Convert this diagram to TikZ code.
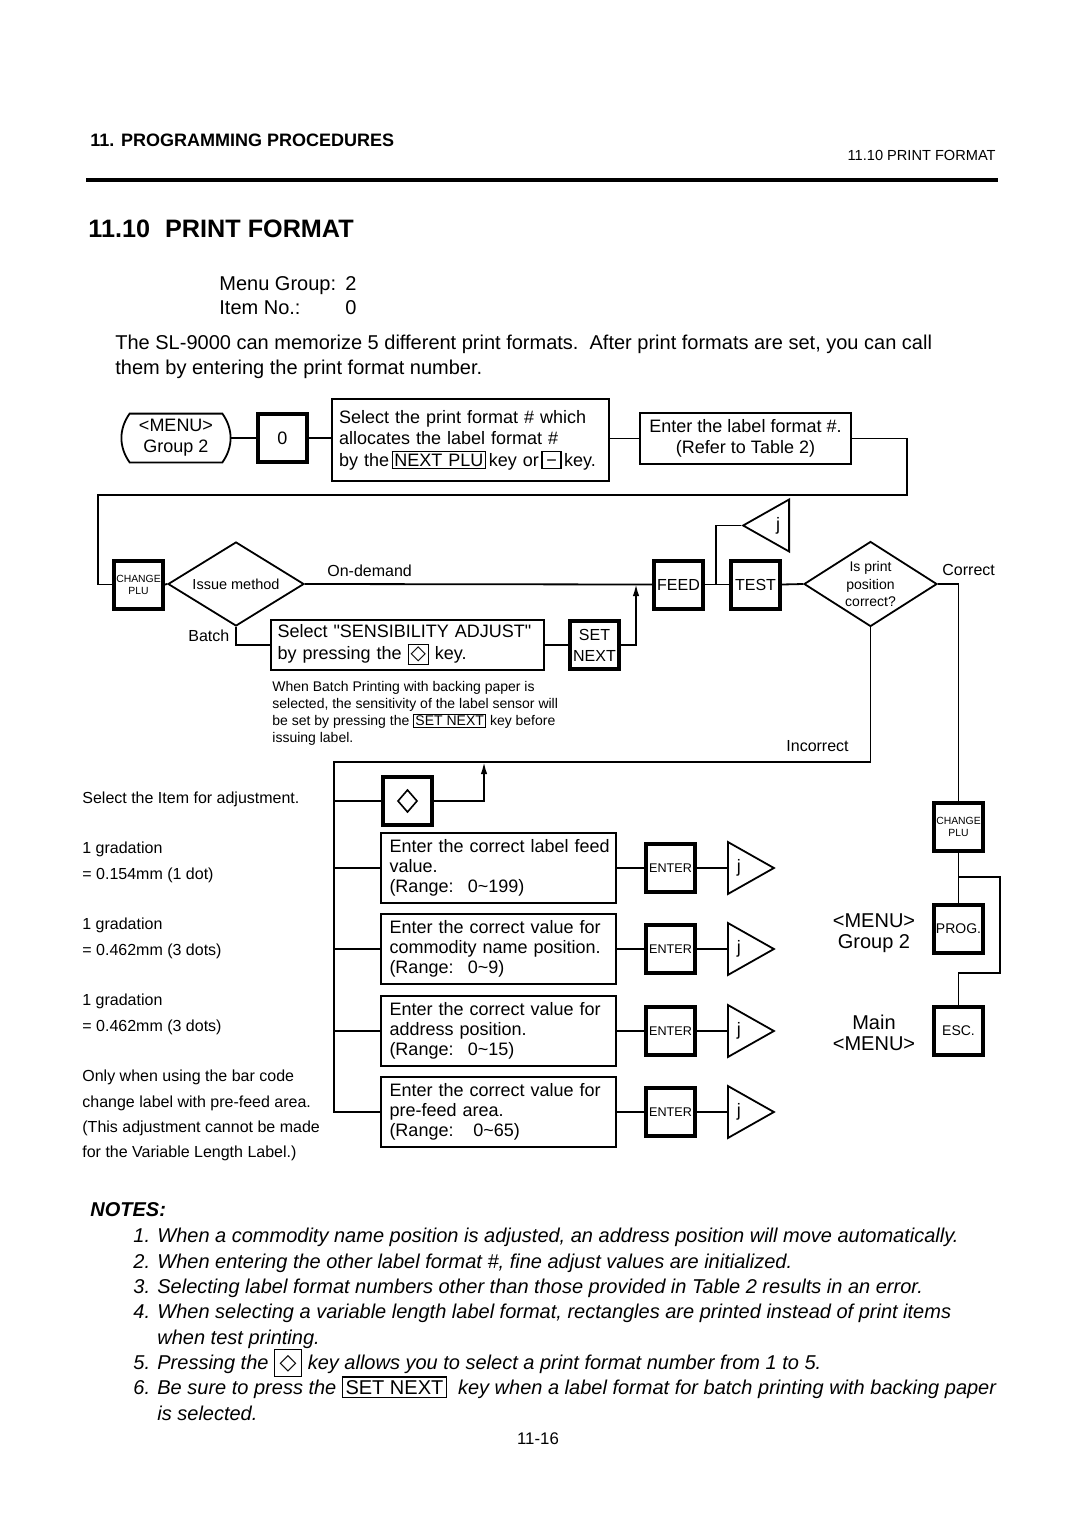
\documentclass[tikz,border=0pt]{standalone}
\usepackage{fontspec}
\setmainfont{Liberation Sans}
\newfontfamily\symfont{DejaVu Sans}
\usetikzlibrary{shapes.geometric,arrows.meta}
\newcommand{\fsz}[2]{\fontsize{#1}{#2}\selectfont}
\newcommand{\keyfr}[2][1pt]{{\fboxsep=#1\fboxrule=0.6pt\fbox{\upshape\vphantom{NP}#2}}}
\newcommand{\oneline}[1]{\mbox{#1}}

\begin{document}
\begin{tikzpicture}[x=0.5pt,y=-0.5pt,>={Latex[length=6pt,width=3.2pt]},
  link/.style={line width=0.9pt},
  box/.style={draw, line width=0.9pt, align=left, inner sep=0pt, font=\fsz{9}{10.75}},
  keybox/.style={draw, line width=2pt, minimum width=24.5pt, minimum height=24pt, inner sep=0pt, align=center},
  ask/.style={draw, diamond, line width=0.9pt, inner sep=0pt, align=center},
  jtri/.style={draw, line width=0.9pt, isosceles triangle, isosceles triangle stretches, minimum width=26pt, minimum height=23pt, inner sep=0pt, font=\fsz{9}{9}},
  txt/.style={anchor=base west, inner sep=0pt},
]
\fill[white] (0,0) rectangle (1080,1525);
\useasboundingbox (0,0) rectangle (1080,1525);

% page head
\node[txt, font=\bfseries\fsz{9}{9}] (hdl) at (90,147) {11. PROGRAMMING PROCEDURES};
\node[anchor=base east, inner sep=0pt, font=\fsz{7.3}{7.3}] (hdr) at (996,161) {11.10 PRINT FORMAT};
\draw[line width=2pt] (86,180) -- (998,180);
\node[txt, font=\bfseries\fsz{12.6}{12.6}] (ttl) at (88,237) {11.10\hspace{0.6em}PRINT FORMAT};
\node[txt, font=\fsz{10}{10}] (mg) at (219,290) {Menu Group:};
\node[txt, font=\fsz{10}{10}] (mgv) at (345,290) {2};
\node[txt, font=\fsz{10}{10}] (ino) at (219,314) {Item No.:};
\node[txt, font=\fsz{10}{10}] (inov) at (345,314) {0};
\node[txt, font=\fsz{10}{10}] (par1) at (115,349) {The SL-9000 can memorize 5 different print formats.\ \ After print formats are set, you can call};
\node[txt, font=\fsz{10}{10}] (par2) at (115,374) {them by entering the print format number.};

% top row
\node[minimum width=46pt, minimum height=24pt, inner sep=0pt, align=center, font=\fsz{9}{10.5}] (menu) at (176,438) {<MENU>\\Group 2};
\draw[link] (menu.north west) to[bend right=35] (menu.south west) -- (menu.south east) to[bend right=35] (menu.north east) -- cycle;
\node[keybox, font=\fsz{9}{9}] (zero) at (282.5,438) {0};
\node[box, text width=131.5pt, inner xsep=3.5pt, minimum height=41pt] (sel) at (470.5,440) {\oneline{Select the print format \# which}\\\oneline{allocates the label format \#}\\\oneline{by the\hspace{1.3pt}\keyfr[0.8pt]{NEXT PLU}\hspace{1.3pt}key or\hspace{1.3pt}\keyfr[0.8pt]{\hspace{1pt}−\hspace{1pt}}\hspace{1.3pt}key.}};
\node[box, align=center, minimum width=105.5pt, minimum height=25.5pt] (fmt) at (745.5,438.5) {Enter the label format \#.\\(Refer to Table 2)};
\draw[link] ([xshift=4pt]menu.east) -- (zero.west);
\draw[link] (zero.east) -- (zero.east -| sel.west);
\draw[link] (fmt.west -| sel.east) -- (fmt.west);

% issue method
\node[keybox, font=\fsz{5.2}{6}] (chg1) at (138.5,584.5) {CHANGE\\PLU};
\coordinate (lpR) at (907,495);
\coordinate (lpL) at (98,495);
\draw[link] (fmt.east) -| (lpR) -- (lpL) |- (chg1.west);
\node[ask, aspect=1.62, minimum width=68pt, minimum height=42pt, font=\fsz{7.25}{7.25}] (issue) at (236,584) {Issue method};
\node[box, text width=130pt, inner xsep=3.25pt, minimum height=25pt, font=\fsz{9}{11}] (sens) at (407.5,645) {\oneline{Select \textquotedbl SENSIBILITY ADJUST\textquotedbl}\\\oneline{by pressing the \keyfr[0.9pt]{\symfont\fsz{10}{10}◇} key.}};
\node[keybox, font=\fsz{8}{10.5}] (setn) at (594.5,645) {SET\\NEXT};
\node[anchor=north west, align=left, inner sep=0pt, font=\fsz{7}{8.5}] (bnote) at (272,681) {When Batch Printing with backing paper is\\selected, the sensitivity of the label sensor will\\be set by pressing the \keyfr[0.5pt]{SET NEXT} key before\\issuing label.};
\node[keybox, font=\fsz{8}{8}] (feed) at (678.5,584.5) {FEED};
\node[keybox, font=\fsz{8}{8}] (test) at (755.5,584.5) {TEST};
\node[jtri, shape border rotate=180, anchor=lower side] (jtop) at (790,525.5) {j};
\node[ask, aspect=1.56, minimum width=66.5pt, minimum height=42.5pt, font=\fsz{7}{8.75}] (pos) at (870.5,584) {Is print\\position\\correct?};
\draw[link] (chg1.east) -- (issue.west);
\draw[link] (issue.east) -- (feed.west);
\draw[link] (issue.south) |- (sens.west);
\draw[link] (sens.east) -- (setn.west);
\coordinate (odj) at (636,584);
\draw[link,->] (setn.east) -| (odj);
\draw[link] (feed.east) -- (test.west);
\coordinate (fj) at (716,584);
\draw[link] (fj) |- (jtop.apex);
\draw[link] (test.east) -- (pos.west);
\node[txt, font=\fsz{8}{8}] (ondem) at (327,576) {On-demand};
\node[txt, font=\fsz{8}{8}] (batch) at (188,641) {Batch};
\node[txt, font=\fsz{8}{8}] (corr) at (942,575) {Correct};
\node[txt, font=\fsz{8}{8}] (incorr) at (786,751) {Incorrect};

% adjustment items
\node[keybox, path picture={\draw[line width=0.8pt] (path picture bounding box.center) ++(0,-11) -- ++(9.5,11) -- ++(-9.5,11) -- ++(-9.5,-11) -- cycle;}] (key) at (407.5,801) {};
\foreach \i/\y/\t in {1/868/{\oneline{Enter the correct label feed}\\value.\\(Range:\hspace{0.8em}0\textasciitilde199)},
                      2/949/{\oneline{Enter the correct value for}\\\oneline{commodity name position.}\\(Range:\hspace{0.8em}0\textasciitilde9)},
                      3/1031/{\oneline{Enter the correct value for}\\\oneline{address position.}\\(Range:\hspace{0.8em}0\textasciitilde15)},
                      4/1112/{\oneline{Enter the correct value for}\\\oneline{pre-feed area.}\\(Range:\hspace{1.1em}0\textasciitilde65)}}
  {
  \node[box, text width=109pt, inner xsep=4.25pt, minimum height=35pt, font=\fsz{9}{10}] (adj\i) at (498.5,\y) {\t};
  \node[keybox, font=\fsz{6.3}{6.3}] (ent\i) at (670.5,\y) {ENTER};
  \node[jtri, anchor=lower side] (j\i) at (727,\y) {j};
  \draw[link] (adj\i.east) -- (ent\i.west);
  \draw[link] (ent\i.east) -- (j\i.lower side);
  }
\coordinate (spT) at (334,762);
\coordinate (spB) at (334,1112);
\draw[link] (pos.south) |- (spT) -- (spB) -- (adj4.west);
\foreach \n in {key,adj1,adj2,adj3}
  \draw[link] (spT |- \n.west) -- (\n.west);
\coordinate (kj) at (484,762);
\draw[link,->] (key.east) -| (kj);

% left hand remarks
\foreach \nm/\y/\t in {sa/803/{Select the Item for adjustment.}, g1a/853/{1 gradation}, g1b/879/{= 0.154mm (1 dot)},
                       g2a/929/{1 gradation}, g2b/955/{= 0.462mm (3 dots)}, g3a/1005/{1 gradation}, g3b/1031/{= 0.462mm (3 dots)},
                       ow1/1081/{Only when using the bar code}, ow2/1107/{change label with pre-feed area.},
                       ow3/1132/{(This adjustment cannot be made}, ow4/1157/{for the Variable Length Label.)}}
  \node[txt, font=\fsz{8}{8}] (\nm) at (82,\y) {\t};

% return keys
\node[keybox, font=\fsz{5.2}{6}] (chg2) at (958.5,827) {CHANGE\\PLU};
\node[keybox, font=\fsz{7}{7}] (prog) at (958.5,928.5) {PROG.};
\node[keybox, font=\fsz{7}{7}] (esc) at (958.5,1031) {ESC.};
\node[align=center, inner sep=0pt, font=\fsz{10}{10.5}] (mg2) at (874,933) {<MENU>\\Group 2};
\node[align=center, inner sep=0pt, font=\fsz{10}{10.5}] (mmn) at (874,1033) {Main\\<MENU>};
\draw[link] (pos.east) -| (chg2.north);
\draw[link] (chg2.south) -- (prog.north);
\coordinate (byA) at (958.5,877);
\coordinate (byB) at (1000,973);
\coordinate (byC) at (958.5,973);
\draw[link] (byA) -| (byB) |- (byC) -- (esc.north);

% notes
\node[txt, font=\bfseries\itshape\fsz{10}{10}] (nts) at (90,1216) {NOTES:};
\foreach \k/\y/\t in {1/1242/{When a commodity name position is adjusted, an address position will move automatically.},
                      2/1268/{When entering the other label format \#, fine adjust values are initialized.},
                      3/1293/{Selecting label format numbers other than those provided in Table 2 results in an error.},
                      4/1318/{When selecting a variable length label format, rectangles are printed instead of print items},
                      5/1369/{Pressing the \keyfr[2.2pt]{\symfont\fsz{11}{11}◇} key allows you to select a print format number from 1 to 5.},
                      6/1394/{Be sure to press the \keyfr[1.2pt]{SET NEXT}\ \ key when a label format for batch printing with backing paper}}
  {
  \node[txt, font=\itshape\fsz{10}{10}] (nn\k) at (133,\y) {\k.};
  \node[txt, font=\itshape\fsz{10}{10}] (nt\k) at (157,\y) {\t};
  }
\node[txt, font=\itshape\fsz{10}{10}] (nt4b) at (157,1344) {when test printing.};
\node[txt, font=\itshape\fsz{10}{10}] (nt6b) at (157,1420) {is selected.};
\node[anchor=base, inner sep=0pt, font=\fsz{8.4}{8.4}] (pgno) at (538,1444) {11-16};
\end{tikzpicture}
\end{document}
